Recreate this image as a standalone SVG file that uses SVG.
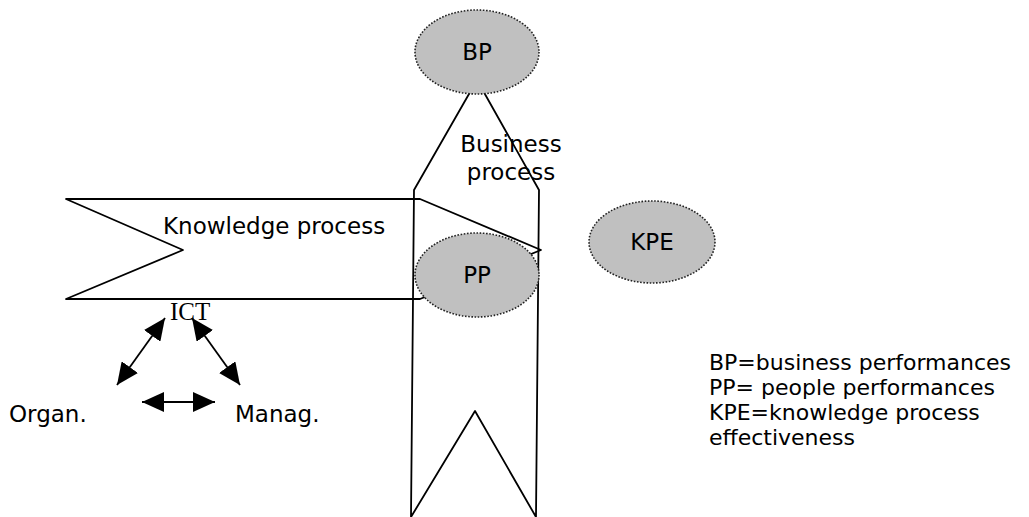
<svg xmlns="http://www.w3.org/2000/svg" width="1029" height="517" viewBox="0 0 1029 517">
<style>
.shape{fill:none;stroke:#000;stroke-width:1.8;stroke-linejoin:round}
.ell{fill:#c0c0c0;stroke:#222;stroke-width:1.6;stroke-dasharray:1.6 1.6}
.t{font-family:"DejaVu Sans",Verdana,sans-serif;font-size:23px;fill:#000}
.c{text-anchor:middle}
.leg{font-family:"DejaVu Sans",Verdana,sans-serif;font-size:22px;fill:#000}
.serif{font-family:"Liberation Serif","Times New Roman",serif;font-size:25px;fill:#000}
.arr{stroke:#000;stroke-width:1.8;fill:none;marker-start:url(#ah);marker-end:url(#ah)}
</style>
<defs>
<marker id="ah" markerUnits="userSpaceOnUse" markerWidth="22" markerHeight="20" refX="22" refY="10" orient="auto-start-reverse">
<path d="M0,0 L22,10 L0,20 z" fill="#000"/>
</marker>
<clipPath id="clipManag"><rect x="225" y="390" width="110" height="37"/></clipPath>
</defs>
<rect width="1029" height="517" fill="#fff"/>
<g id="business-process">
<polygon class="shape" points="477,80 539,190 536,517 475,411 411,517 414,190"/>
<text class="t c" x="511" y="152">Business</text>
<text class="t c" x="511" y="180">process</text>
</g>
<g id="knowledge-process">
<polygon class="shape" points="66,199 420,199 541,250 420,299 66,299 183,250"/>
<text class="t" x="163" y="234">Knowledge process</text>
</g>
<g id="BP">
<ellipse class="ell" cx="477" cy="52" rx="62" ry="42"/>
<text class="t c" x="477" y="60">BP</text>
</g>
<g id="PP">
<ellipse class="ell" cx="477" cy="275" rx="62" ry="42"/>
<text class="t c" x="477" y="283">PP</text>
</g>
<g id="KPE">
<ellipse class="ell" cx="652" cy="242" rx="63" ry="41"/>
<text class="t c" x="652" y="250">KPE</text>
</g>
<g id="ICT">
<text class="serif" x="170" y="320">ICT</text>
</g>
<g id="Organ">
<text class="t" x="9" y="422">Organ.</text>
</g>
<g id="Manag">
<text class="t" x="235" y="422" clip-path="url(#clipManag)">Manag.</text>
</g>
<g id="connectors">
<line class="arr" x1="165" y1="318" x2="117" y2="385"/>
<line class="arr" x1="192" y1="318" x2="240" y2="385"/>
<line class="arr" x1="142" y1="402" x2="215" y2="402"/>
</g>
<g id="legend">
<text class="leg" x="709" y="370">BP=business performances</text>
<text class="leg" x="709" y="395">PP= people performances</text>
<text class="leg" x="709" y="420">KPE=knowledge process</text>
<text class="leg" x="709" y="445">effectiveness</text>
</g>
</svg>
